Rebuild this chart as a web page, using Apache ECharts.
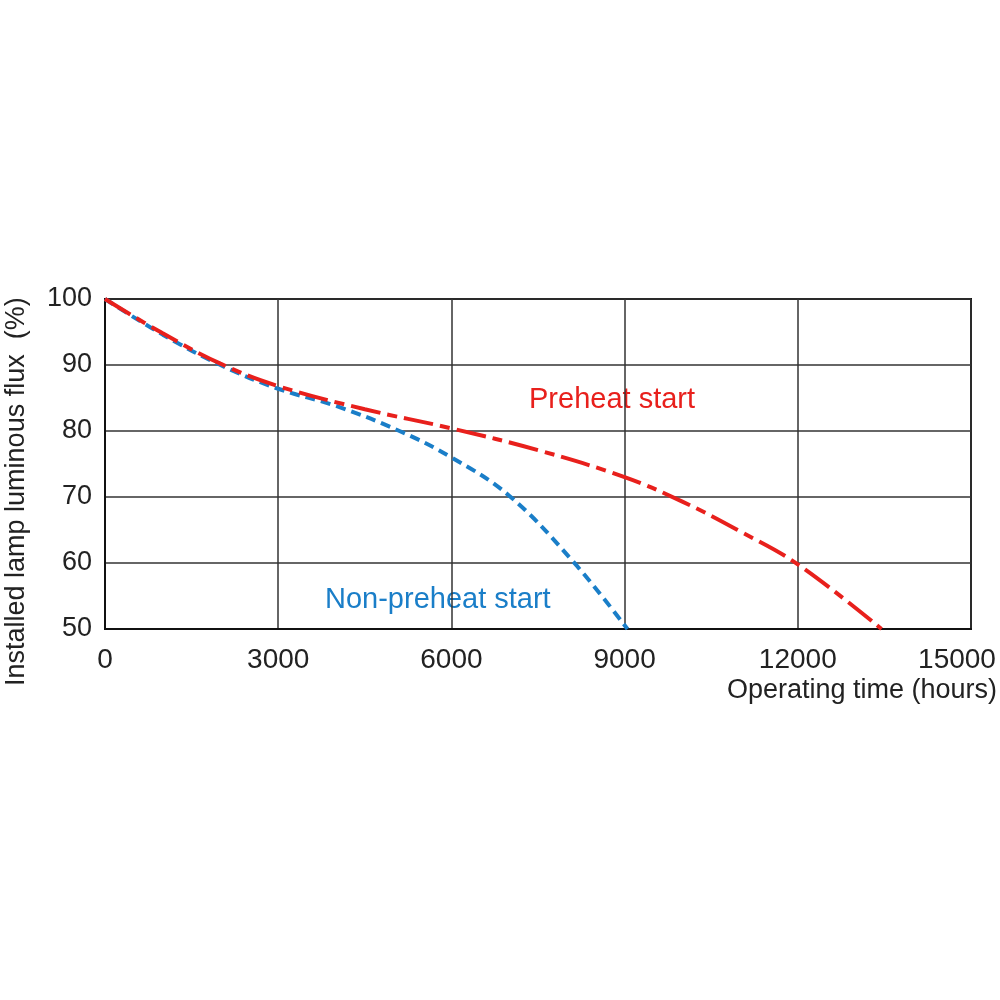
<!DOCTYPE html>
<html><head><meta charset="utf-8">
<script src="https://cdn.jsdelivr.net/npm/echarts@6/dist/echarts.min.js"></script>
<style>html,body{margin:0;padding:0;background:#fff}#c{width:1000px;height:1000px}</style>
</head><body><div id="c"></div>
<script>
const xTicks = [0, 3000, 6000, 9000, 12000, 15000];
const yTicks = [50, 60, 70, 80, 90, 100];
const preheat = [[0,100],[1000,94.8],[2000,90.2],[3000,86.8],[4500,83.3],[6000,80.4],[7500,77.1],[9000,73],[10000,69.3],[11000,64.8],[12000,59.8],[13450,50]];
const nonPreheat = [[0,100],[1000,94.6],[2000,90],[3000,86.4],[4000,83.8],[5100,80],[6000,76],[7000,70.2],[8100,60.3],[9050,50]];
const labels = {preheat:'Preheat start', nonPreheat:'Non-preheat start', x:'Operating time (hours)', y:'Installed lamp luminous flux  (%)'};
const font = "'Liberation Sans', Arial, Helvetica, sans-serif";
const chart = echarts.init(document.getElementById('c'));
chart.setOption({
  backgroundColor:'#fff',
  animation:false,
  grid:{left:105,right:29,top:299,bottom:371,show:true,borderColor:'#111',borderWidth:2,backgroundColor:'transparent',containLabel:false,outerBoundsMode:'none'},
  xAxis:{type:'value',min:0,max:15000,interval:3000,
    axisLine:{show:true,lineStyle:{color:'#111',width:2}},axisTick:{show:false},
    splitLine:{show:true,lineStyle:{color:'#333',width:1.5}},
    axisLabel:{fontFamily:font,fontSize:28,color:'#222',margin:17,
      formatter:v=>v===xTicks[xTicks.length-1]?'{last|'+v+'}':String(v),
      rich:{last:{fontFamily:font,fontSize:28,color:'#222',padding:[0,28,0,0]}}}},
  yAxis:{type:'value',min:50,max:100,interval:10,
    axisLine:{show:true,lineStyle:{color:'#111',width:2}},axisTick:{show:false},
    splitLine:{show:true,lineStyle:{color:'#333',width:1.5}},
    axisLabel:{fontFamily:font,fontSize:27,color:'#222',margin:13,formatter:v=>String(v)}},
  series:[
    {type:'line',data:nonPreheat,smooth:0.4,symbol:'none',lineStyle:{color:'#1a7ec8',width:4,type:[10,6]}},
    {type:'line',data:preheat,smooth:0.4,symbol:'none',lineStyle:{color:'#e8201c',width:4,type:[30,7,10,7]}}
  ],
  graphic:[
    {type:'text',left:529,top:385,style:{text:labels.preheat,fill:'#e8201c',font:'29px '+font}},
    {type:'text',left:325,top:585,style:{text:labels.nonPreheat,fill:'#1a7ec8',font:'29px '+font}},
    {type:'text',right:3,top:677,style:{text:labels.x,fill:'#222',font:'27px '+font}},
    {type:'text',x:3,y:686,rotation:Math.PI/2,style:{text:labels.y,fill:'#222',font:'27px '+font}}
  ]
});
</script></body></html>
